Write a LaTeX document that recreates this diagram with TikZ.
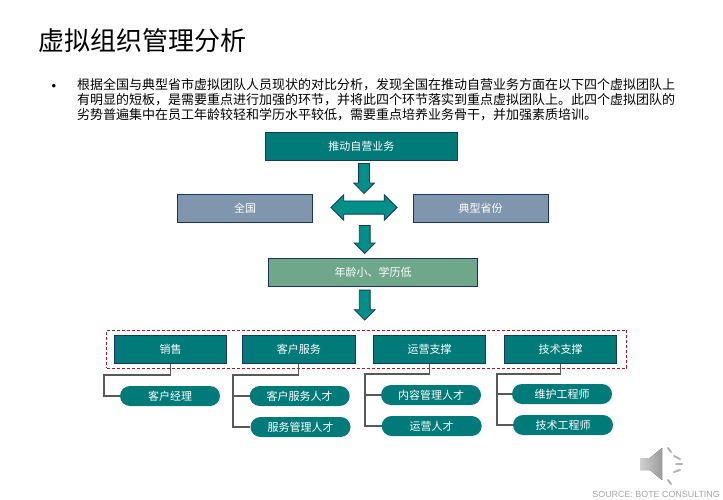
\documentclass[tikz,border=0pt]{standalone}
\usepackage{fontspec}
\usepackage{xcolor}
\usetikzlibrary{shapes,arrows,arrows.meta}
\usetikzlibrary{shapes.arrows}
\setmainfont{Liberation Sans}
\newfontfamily\cjk{Noto Sans CJK SC}
\definecolor{tealbox}{HTML}{007B79}
\definecolor{tealarrow}{HTML}{00908A}
\definecolor{navyline}{HTML}{17375E}
\definecolor{slatebox}{HTML}{7F96AE}
\definecolor{greenbox}{HTML}{6FA78B}
\definecolor{redline}{HTML}{A8182A}
\tikzset{
    box/.style={draw=navyline, line width=0.8pt, inner sep=0pt, text=white, minimum height=28pt, font=\cjk\fontsize{11}{13}\selectfont},
    pill/.style={rounded rectangle, fill=tealbox, inner sep=0pt, text=white, minimum height=20pt, minimum width=100pt, font=\cjk\fontsize{11}{13}\selectfont},
    downarrow/.style={single arrow, shape border rotate=270, anchor=tip, draw=navyline, fill=tealarrow, line width=0.8pt, inner sep=5pt, minimum height=#1, single arrow head extend=5pt},
    branch/.style={line width=1.1pt, draw=black!65},
    tick/.style={line width=2pt, line cap=round, draw=black!30}
}
\begin{document}
\begin{tikzpicture}[x=1pt,y=-1pt]
\useasboundingbox (0,0) rectangle (723,500);
% heading and text
\node[anchor=west, inner sep=0pt, font=\cjk\fontsize{26}{30}\selectfont] (title) at (38,41) {虚拟组织管理分析};
\node[inner sep=0pt, font=\fontsize{13}{15}\selectfont] (bullet) at (54,87) {•};
\node[anchor=north west, inner sep=0pt, align=left, font=\cjk\fontsize{13}{15}\selectfont] (body) at (77,78.5)
  {根据全国与典型省市虚拟团队人员现状的对比分析，发现全国在推动自营业务方面在以下四个虚拟团队上\\
   有明显的短板，是需要重点进行加强的环节，并将此四个环节落实到重点虚拟团队上。此四个虚拟团队的\\
   劣势普遍集中在员工年龄较轻和学历水平较低，需要重点培养业务骨干，并加强素质培训。};

% upper boxes
\node[box, fill=tealbox, minimum width=192.5pt] (push) at (361.3,146.3) {推动自营业务};
\node[box, fill=slatebox, minimum width=135pt] (nation) at (245,208) {全国};
\node[box, fill=slatebox, minimum width=135.5pt] (province) at (480.7,208) {典型省份};
\node[box, fill=greenbox, minimum width=209pt] (young) at (373,272.5) {年龄小、学历低};

% block arrows
\node[downarrow=30pt] (a1) at (364,194) {};
\node[double arrow, draw=navyline, fill=tealarrow, line width=0.8pt, inner sep=6.2pt, minimum height=66pt, double arrow head extend=6.2pt] (a2) at (364,207.5) {};
\node[downarrow=28pt] (a3) at (364.7,254) {};
\node[downarrow=30pt] (a4) at (364.7,320.7) {};

% dashed frame with the four functions
\node[draw=redline, densely dashed, line width=0.8pt, inner sep=0pt, minimum width=520pt, minimum height=38pt] (frame) at (366.7,349) {};
\node[box, fill=tealbox, minimum width=112.4pt] (sales) at (170.5,349.3) {销售};
\node[box, fill=tealbox, minimum width=113.2pt] (service) at (298.9,349.3) {客户服务};
\node[box, fill=tealbox, minimum width=112.4pt] (oper) at (429.5,349.3) {运营支撑};
\node[box, fill=tealbox, minimum width=112.4pt] (tech) at (560.5,349.3) {技术支撑};

% talent pills
\node[pill] (p1) at (170,396) {客户经理};
\node[pill] (p2) at (299.7,396) {客户服务人才};
\node[pill] (p3) at (300.5,427) {服务管理人才};
\node[pill] (p4) at (431,395) {内容管理人才};
\node[pill] (p5) at (431.7,426) {运营人才};
\node[pill] (p6) at (562,394) {维护工程师};
\node[pill] (p7) at (563,425) {技术工程师};

\coordinate (b1) at (104,375);
\coordinate (b2) at (233,375);
\coordinate (b3) at (365,374);
\coordinate (b4) at (497,374);
\draw[branch] (sales.south) |- (b1) |- (p1.west);
\draw[branch] (service.south) |- (b2) |- (p2.west);
\draw[branch] (b2) |- (p3.west);
\draw[branch] (oper.south) |- (b3) |- (p4.west);
\draw[branch] (b3) |- (p5.west);
\draw[branch] (tech.south) |- (b4) |- (p6.west);
\draw[branch] (b4) |- (p7.west);

% speaker
\fill[left color=black!18, right color=black!40] (640,458) -- (650,458) -- (662,448) -- (662,480) -- (650,470) -- (640,470) -- cycle;
\draw[tick] (668,448) -- (671,452);
\draw[tick] (674,456) -- (680,459);
\draw[tick] (676,464) -- (682,464);
\draw[tick] (674,472) -- (680,470);
\draw[tick] (668,480) -- (671,484);

\node[anchor=east, inner sep=0pt, text=black!35, font=\fontsize{8.9}{11}\selectfont] (source) at (720,494) {SOURCE: BOTE CONSULTING};
\end{tikzpicture}
\end{document}
